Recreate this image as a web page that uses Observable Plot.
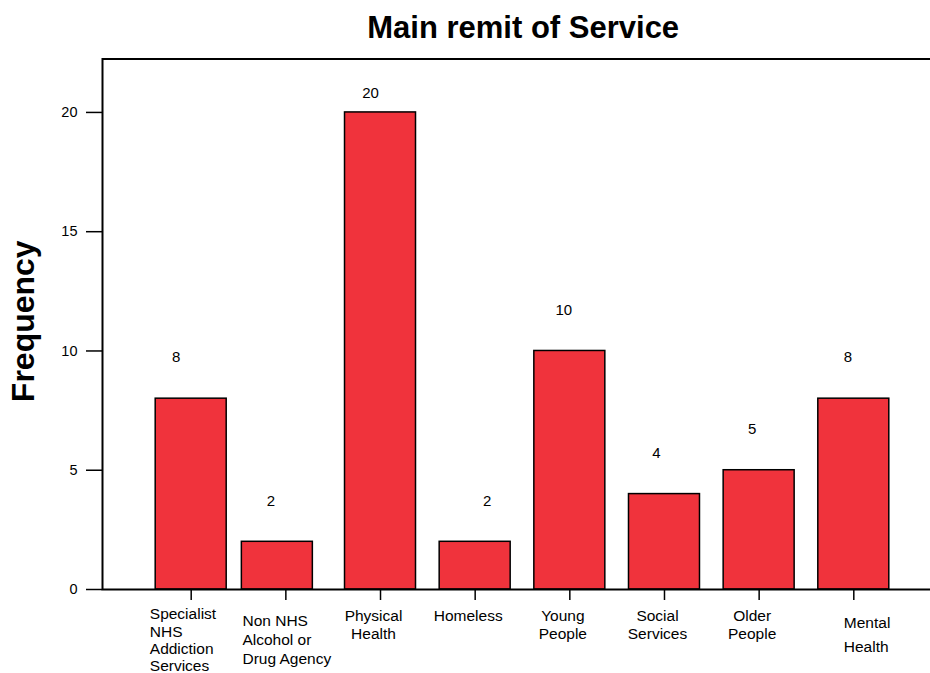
<!DOCTYPE html>
<html><head><meta charset="utf-8">
<script src="https://cdn.jsdelivr.net/npm/d3@7"></script>
<script src="https://cdn.jsdelivr.net/npm/@observablehq/plot@0.6"></script>
<style>
body{margin:0;background:#fff;}
#chart svg{font-family:"Liberation Sans",Arial,sans-serif;color:#000;background:#fff;}
</style>
</head><body><div id="chart"></div>
<script>
const categories = ["Specialist NHS Addiction Services", "Non NHS Alcohol or Drug Agency", "Physical Health", "Homeless", "Young People", "Social Services", "Older People", "Mental Health"];
const tickLabels = ["Specialist\nNHS\nAddiction\nServices", "Non NHS\nAlcohol or\nDrug Agency", "Physical\nHealth", "Homeless", "Young\nPeople", "Social\nServices", "Older\nPeople", "Mental\nHealth"];
const frequencies = [8, 2, 20, 2, 10, 4, 5, 8];
const yTicks = [0, 5, 10, 15, 20];
const yMax = 22.24;
const title = "Main remit of Service";
const yLabel = "Frequency";

const data = categories.map((c, i) => ({category: c, label: tickLabels[i], value: frequencies[i]}));
const maxV = d3.max(frequencies);
const font = 15.5;
const centered = ["Physical Health", "Homeless", "Young People", "Social Services", "Older People"];
// horizontal nudges of the value labels (layout only), keyed by category
const valueNudge = {
  "Specialist NHS Addiction Services": -15, "Non NHS Alcohol or Drug Agency": -15, "Physical Health": -10,
  "Homeless": 12, "Young People": -6, "Social Services": -8, "Older People": -7, "Mental Health": -6
};

const valueMarks = data.map(d => Plot.text([d], {
  x: "category", y: "value", text: v => String(v.value),
  dy: d.value === maxV ? -19 : -41, dx: valueNudge[d.category],
  fontSize: 15, fill: "#000"
}));

const barStyle = {x: "category", y: "value", fill: "#F0333C", stroke: "#000", strokeWidth: 1.5};

const chart = Plot.plot({
  width: 930,
  height: 673,
  marginLeft: 102,
  marginRight: -3,
  marginTop: 58.5,
  marginBottom: 84,
  x: {type: "band", domain: categories, range: [102, 942], paddingInner: 0.25, paddingOuter: 0.562, align: 0.5, round: false, axis: null},
  y: {domain: [0, yMax], axis: null},
  marks: [
    Plot.barY(data.filter(d => d.category !== categories[1]), barStyle),
    Plot.barY(data.filter(d => d.category === categories[1]), {...barStyle, dx: -8.5}),
    Plot.frame({stroke: "#000", strokeWidth: 2}),
    Plot.axisY({ticks: yTicks, tickSize: 16, tickPadding: 9, fontSize: 14.5, strokeWidth: 1.5, label: null, fill: "#000"}),
    Plot.axisX({tickSize: 11, strokeWidth: 1.5, tickFormat: () => "", label: null}),
    // category labels
    Plot.text(data.filter(d => centered.includes(d.category)), {x: "category", frameAnchor: "bottom", text: "label", lineAnchor: "top", dy: 18.5, dx: -7, fontSize: font, lineHeight: 1.18, fill: "#000"}),
    Plot.text(data.filter(d => d.category === categories[0]), {x: "category", frameAnchor: "bottom", text: "label", lineAnchor: "top", textAnchor: "start", dy: 17.5, dx: -41.4, fontSize: font, lineHeight: 1.12, fill: "#000"}),
    Plot.text(data.filter(d => d.category === categories[1]), {x: "category", frameAnchor: "bottom", text: "label", lineAnchor: "top", textAnchor: "start", dy: 23.5, dx: -43.4, fontSize: font, lineHeight: 1.22, fill: "#000"}),
    Plot.text(data.filter(d => d.category === categories[7]), {x: "category", frameAnchor: "bottom", text: "label", lineAnchor: "top", textAnchor: "start", dy: 21.3, dx: -10, fontSize: font, lineHeight: 1.55, fill: "#000"}),
    // value labels
    ...valueMarks,
    // title and y label
    Plot.text([title], {frameAnchor: "top", text: d => d, lineAnchor: "middle", textAnchor: "middle", dy: -30.6, dx: 5.2, fontSize: 31, fontWeight: "bold", fill: "#000"}),
    Plot.text([yLabel], {frameAnchor: "left", text: d => d, rotate: -90, textAnchor: "middle", lineAnchor: "middle", dx: -78.6, dy: -3, fontSize: 32, fontWeight: "bold", fill: "#000"})
  ]
});
document.getElementById("chart").appendChild(chart);
</script>
</body></html>
